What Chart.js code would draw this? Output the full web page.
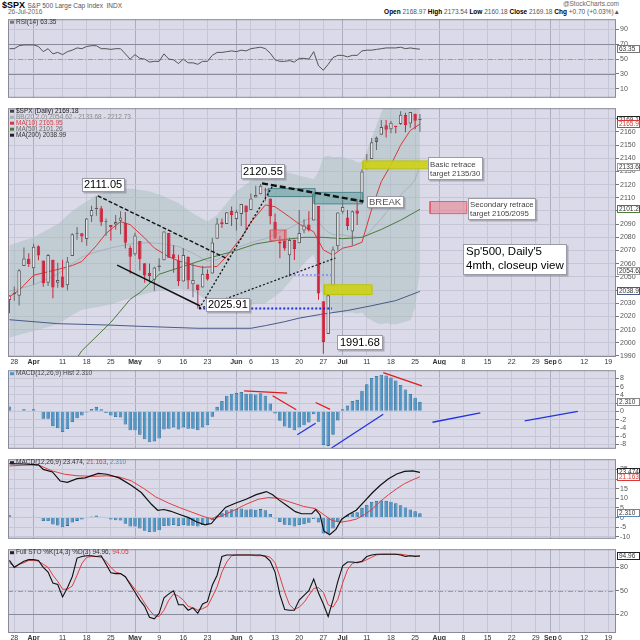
<!DOCTYPE html>
<html>
<head>
<meta charset="utf-8">
<script src="https://cdn.jsdelivr.net/npm/chart.js@4.4.1/dist/chart.umd.min.js"></script>
<style>
  html, body { margin: 0; padding: 0; background: #fff; }
  #page { position: relative; width: 640px; height: 640px; overflow: hidden; font-family: 'Liberation Sans', Arial, sans-serif; }
  #page canvas { position: absolute; left: 0; }
  .t { position: absolute; white-space: nowrap; line-height: 1; }
  .t b { color: #000; }
</style>
</head>
<body>
<div id="page">
  <div class="t" style="left:2px;top:1px;font-size:9px;color:#000"><b>$SPX</b> <span style="font-size:6.5px;color:#555">S&amp;P 500 Large Cap Index&nbsp; INDX</span></div>
  <div class="t" style="left:8px;top:9px;font-size:6.5px;color:#666">26-Jul-2016</div>
  <div class="t" style="right:21px;top:1px;font-size:6.5px;color:#666">@StockCharts.com</div>
  <div class="t" style="right:20px;top:9px;font-size:6.5px;color:#555"><b>Open</b> 2168.97 <b>High</b> 2173.54 <b>Low</b> 2160.18 <b>Close</b> 2169.18 <b>Chg</b> +0.70 (+0.03%)&#9650;</div>
  <canvas id="cRsi" width="640" height="89" style="top:14px"></canvas>
  <canvas id="cPrice" width="640" height="262" style="top:103px"></canvas>
  <canvas id="cHist" width="640" height="89" style="top:365px"></canvas>
  <canvas id="cMacd" width="640" height="90" style="top:454px"></canvas>
  <canvas id="cSto" width="640" height="96" style="top:544px"></canvas>
</div>
<script>
// $SPX daily, 24 Mar - 26 Jul 2016 (x = trading day number, 24 Mar = 0)
const days = ['03-24','03-28','03-29','03-30','03-31','04-01','04-04','04-05','04-06','04-07','04-08','04-11','04-12','04-13','04-14','04-15','04-18','04-19','04-20','04-21','04-22','04-25','04-26','04-27','04-28','04-29','05-02','05-03','05-04','05-05','05-06','05-09','05-10','05-11','05-12','05-13','05-16','05-17','05-18','05-19','05-20','05-23','05-24','05-25','05-26','05-27','05-31','06-01','06-02','06-03','06-06','06-07','06-08','06-09','06-10','06-13','06-14','06-15','06-16','06-17','06-20','06-21','06-22','06-23','06-24','06-27','06-28','06-29','06-30','07-01','07-05','07-06','07-07','07-08','07-11','07-12','07-13','07-14','07-15','07-18','07-19','07-20','07-21','07-22','07-25','07-26'];

const open = [2032.48,2037.89,2035.75,2058.27,2063.77,2056.62,2073.19,2062.50,2045.56,2063.01,
  2045.54,2050.23,2043.72,2065.92,2082.89,2083.10,2078.83,2096.05,2101.52,2102.09,
  2091.49,2089.37,2089.84,2092.57,2090.93,2071.82,2067.17,2077.18,2060.30,2052.95,
  2047.77,2057.55,2062.63,2083.29,2067.17,2062.50,2046.53,2065.04,2044.38,2044.21,
  2041.88,2052.23,2052.65,2078.93,2091.44,2090.06,2100.13,2093.94,2097.71,2104.07,
  2100.83,2110.18,2112.71,2115.65,2109.57,2091.75,2076.65,2077.60,2066.36,2078.20,
  2075.58,2085.19,2089.75,2092.80,2103.81,2031.45,2006.67,2042.69,2073.17,2099.34,
  2095.05,2084.43,2100.42,2106.97,2131.72,2139.50,2155.81,2157.88,2165.13,2162.04,
  2163.79,2166.10,2172.91,2166.47,2173.71,2168.97];
const high = [2036.04,2042.67,2055.91,2072.21,2067.92,2075.07,2074.02,2062.50,2067.33,2063.01,
  2060.63,2062.93,2065.05,2083.18,2087.84,2083.22,2094.66,2104.05,2111.05,2103.78,
  2094.32,2089.37,2096.87,2099.89,2099.30,2073.85,2083.42,2077.18,2060.30,2060.23,
  2057.72,2064.15,2084.87,2083.29,2073.99,2066.79,2071.88,2065.69,2060.61,2044.21,
  2058.35,2055.58,2079.67,2094.73,2094.31,2099.06,2103.48,2100.97,2105.26,2104.07,
  2113.36,2119.22,2120.55,2117.64,2109.57,2098.12,2081.30,2085.65,2079.62,2078.20,
  2100.66,2093.66,2099.71,2113.32,2103.81,2031.45,2036.09,2073.13,2098.94,2108.71,
  2100.72,2100.34,2109.08,2131.71,2143.16,2155.40,2156.45,2168.99,2169.05,2168.35,
  2164.63,2175.63,2174.56,2175.11,2173.71,2173.54];
const low = [2022.49,2031.96,2028.31,2058.27,2057.46,2043.98,2062.57,2042.56,2043.09,2033.80,
  2041.69,2041.88,2039.74,2065.92,2078.13,2076.31,2073.65,2091.68,2096.32,2088.52,
  2081.20,2077.52,2085.80,2082.31,2071.62,2052.28,2066.11,2054.89,2045.55,2045.77,
  2039.45,2054.31,2062.63,2064.46,2053.13,2043.13,2046.53,2040.82,2034.49,2025.91,
  2041.88,2047.26,2052.65,2078.93,2087.08,2090.06,2088.66,2085.10,2088.59,2085.36,
  2100.83,2110.18,2112.71,2107.73,2089.96,2078.46,2064.10,2069.80,2050.37,2062.84,
  2075.58,2083.02,2084.36,2092.80,2032.57,1991.68,2006.67,2042.69,2070.00,2097.90,
  2085.31,2074.02,2089.39,2106.97,2131.72,2139.50,2146.21,2157.88,2155.79,2159.07,
  2159.01,2165.16,2159.75,2163.24,2161.95,2160.18];
const close = [2035.94,2037.05,2055.01,2063.95,2059.74,2072.78,2066.13,2045.17,2066.66,2041.91,
  2047.60,2041.99,2061.72,2082.42,2082.78,2080.73,2094.34,2100.80,2102.40,2091.48,
  2091.58,2087.79,2091.70,2095.15,2075.81,2065.30,2081.43,2063.37,2051.12,2050.63,
  2057.14,2058.69,2084.39,2064.46,2064.11,2046.61,2066.66,2047.21,2047.63,2040.04,
  2052.32,2048.04,2076.06,2090.54,2090.10,2099.06,2096.95,2099.33,2105.26,2099.13,
  2109.41,2112.13,2119.12,2115.48,2096.07,2079.06,2075.32,2071.50,2077.99,2071.22,
  2083.25,2088.90,2085.45,2113.32,2037.41,2000.54,2036.09,2070.77,2098.86,2102.95,
  2088.55,2099.73,2097.90,2129.90,2137.16,2152.14,2152.43,2163.75,2161.74,2166.89,
  2163.78,2173.02,2165.17,2175.03,2168.48,2169.18];
const closeBefore = 2036.71; // 23 Mar

// overlays: [day, value]
const ma10 = [[0,2034.9],[2,2039.9],[5,2051.2],[8,2053.9],[10,2055.6],[13,2058.6],[15,2061.7],[18,2073.7],[20,2083.0],[23,2091.9],[25,2089.6],[28,2079.5],[30,2071.9],[33,2065.2],[35,2062.2],[38,2058.8],[40,2057.2],[43,2057.9],[45,2065.8],[48,2079.8],[50,2091.4],[53,2104.6],[55,2103.2],[58,2095.5],[60,2090.1],[63,2084.2],[65,2070.5],[67,2066.5],[69,2071.8],[71,2073.4],[73,2076.3],[75,2101.4],[77,2122.3],[79,2135.0],[81,2149.9],[83,2161.1],[85,2165.95]];
const ma50 = [[12,1978],[15,1994],[21,2015.5],[25,2033],[27,2038],[31,2052],[36,2058],[41,2064],[46,2069],[51,2075],[56,2078],[61,2080],[65,2080],[69,2079],[73,2080],[77,2086],[81,2093],[85,2101.26]];
const ma200 = [[0,2017.5],[10,2014.5],[20,2013.5],[27,2012.5],[39,2011],[50,2011],[53,2013],[57,2016],[60,2018.7],[64.4,2021.5],[70,2024.5],[74.7,2027.9],[80,2032],[85,2039]];
const bbX     = [0,5,10,13,15,18,21,25,29,32,35,38,41,43,45,47,50,53,56,58,60,62,63,64,65,66,67,68,69,70,71,72,73,74,75,76,77,78,79,80,81,82,83,84,85];
const bbUpper = [2074,2080,2090,2100,2105,2112,2116,2117,2115,2111,2106,2098,2092,2097,2106,2115,2123,2128,2130,2129,2127,2125,2124,2130,2141,2142,2141,2141,2141,2139,2139,2137,2137,2145,2155,2165,2175,2183,2192,2200,2209,2216,2220,2220,2213];
const bbMid   = [2039,2044,2052,2060,2065,2069,2072,2075,2076,2075,2073,2068,2062,2063,2067,2072,2076,2079,2084,2087,2091,2094,2095,2092,2087,2084,2082,2082,2082,2081,2081,2080,2080,2082,2086,2090,2094,2099,2103,2107,2112,2116,2119,2124,2134];
const bbLower = [2004,2009,2014,2021,2025,2027,2029,2034,2038,2040,2041,2039,2032,2030,2029,2029,2029,2030,2038,2046,2056,2064,2067,2053,2033,2026,2023,2023,2023,2023,2023,2022,2023,2019,2017,2015,2014,2015,2014,2014,2015,2016,2017,2027,2055];

// indicator panels
const rsi = [64,64,68,69,69,69,67,60,64,57, 59,56,60,62,65,64,67,68,68,64, 64,63,64,64,57,50,56,51,50,46,
  47,47,57,50,49,44,50,45,45,43, 47,47,55,59,59,60,61,60,62,61, 64,65,66,64,58,49,47,47,48,46,
  51,51,50,60,41,35,43,52,55,55, 53,55,55,61,62,62,63,64,65,65, 65,66,64,65,64,63.35];
const macdHist = [1.2,0.2,0.2,0.5,0.2,0.5,-0.1,-1.8,-1.8,-3.6, -4.1,-5.0,-4.3,-2.6,-1.7,-1.0,-0.3,0.6,1.1,0.5,
  -0.4,-1.0,-1.4,-1.5,-3.2,-4.6,-4.6,-5.7,-6.8,-7.5, -7.3,-6.6,-4.4,-4.2,-3.9,-4.4,-3.9,-4.2,-4.2,-4.6,
  -3.9,-3.4,-1.3,1.1,2.5,3.8,4.3,4.5,4.7,4.2, 4.3,4.1,4.4,3.8,1.9,-0.5,-2.3,-3.7,-4.0,-4.6,
  -3.9,-3.4,-2.7,-0.7,-2.5,-8.2,-8.4,-5.7,-2.2,0.5, 1.4,2.5,2.8,5.0,6.6,8.1,8.6,8.9,8.7,8.2,
  7.5,6.4,5.3,4.2,3.3,2.31];
const macdLine = [[0,28],[3,27.8],[6,27.4],[7,25],[8.9,23.7],[10.5,19],[12,18.3],[14,20.2],[15.7,20.6],[18.4,22.9],[20.2,22.5],[22.7,20.6],[25.2,16.8],[27.3,13],[29.4,6.9],[30.7,3.8],[32,4.2],[33.3,3.4],[35.4,1.5],[37.1,0],[38.8,-2.3],[40.5,-3.8],[41.8,-3.1],[43.1,0.8],[44.8,5.4],[46.9,7.6],[49,9.5],[51.1,11.9],[53.2,13.5],[54.5,11.9],[55.8,9.2],[57.5,6.1],[59.2,3.1],[60.5,2],[62.6,2],[63.4,4.1],[64.3,1.5],[65.1,-6.9],[66.3,-8.9],[67.6,-6.1],[68.8,-0.8],[70.1,1.5],[71.8,3.8],[73.5,8.4],[75.2,13],[76.8,16.8],[78.5,20.2],[80.2,22.6],[81.8,24],[83.5,24.2],[85,23.474]];
const macdSignal = [[0,26.8],[3,27.2],[6,27.3],[8.9,24.2],[11.4,22.5],[14,21.7],[17.5,21.4],[20.2,21.7],[22.7,21.1],[25.2,19.1],[27.7,15.3],[30.3,10.7],[32.9,7.6],[35.4,5],[38,2.6],[40.5,0.3],[41.8,-0.5],[43.9,0.8],[46.5,3.8],[49,6.9],[51.5,9.5],[53.6,10.4],[55.8,10],[58.3,7.9],[60.9,5.8],[63.4,4.6],[65.1,1.5],[66.8,-1.5],[68.5,-2.4],[70.1,-1.8],[71.8,-0.8],[73.5,1.5],[75.2,4.6],[76.8,8.4],[78.5,11.9],[80.2,15],[81.8,17.6],[83.5,19.6],[85,21.163]];
const stoK = [89,80,84,88,90,90,89,80,74,60, 58,42,54,68,92,94,95,95,94,95, 84,73,72,72,68,58,48,38,30,16,
  14,21,41,46,50,32,32,25,28,21, 33,36,57,70,94,96,96,96,96,96, 96,96,96,94,88,74,45,26,25,25,
  38,44,50,65,47,33,17,38,62,82, 87,87,86,88,94,96,97,97,97,97, 97,96,94,95,94,94.96];
const stoD = [86,81,84,86,89,89,88,84,80,70, 62,52,52,56,70,85,93,94,94,93, 88,80,74,72,68,60,52,44,34,25,
  18,17,25,38,46,43,38,30,28,25, 27,30,42,55,74,87,95,96,96,96, 96,95,95,95,93,86,68,48,32,26,
  29,35,44,53,54,48,32,29,39,60, 77,85,87,87,90,93,96,97,97,97, 97,97,96,95,95,94.05];

// date axis (future weeks included)
const tickPos    = [1,5,11,16,21,26,31,36,41,47,50,55,60,65,69,74,79,84,89,94,99,104,109,112,114,119,124];
const tickLabels = ['28','Apr','11','18','25','May','9','16','23','Jun','6','13','20','27','Jul','11','18','25','Aug','8','15','22','29','Sep','6','12','19'];
const tickMonth  = [0,1,0,0,0,1,0,0,0,1,0,0,0,0,1,0,0,0,1,0,0,0,0,1,0,0,0];
const priceTicks = [1990,2000,2010,2020,2030,2040,2050,2060,2070,2080,2090,2100,2110,2120,2130,2140,2150,2160,2170];

// chartist's drawings: [day0, value0, day1, value1] and boxes [day0, day1, low, high]
const trendFromHigh = [18.3, 2111.5, 45.5, 2063];
const trendLower    = [22.3, 2058.9, 39.5, 2027.9];
const trendUpFromLow = [39.3, 2025.91, 54.6, 2119.6];
const trendFromPeak = [52.3, 2121, 73.3, 2107.2];
const trendLowRight = [39.3, 2025.91, 67.5, 2064.3];
const lowLevel      = [39.3, 2025.91, 66.8, 2025.91];
const midLevel      = [58.1, 2051.5, 67.1, 2051.5];
const tealBoxA   = [53.6, 63.3, 2111, 2117];
const tealBoxB   = [63.1, 73.1, 2105.4, 2114.1];
const pinkBoxSm  = [54, 57.3, 2077.5, 2085.6];
const yellowHi   = [73.2, 86.8, 2132, 2138];
const yellowLo   = [65.2, 75.1, 2036.6, 2044];
const pinkTarget = [87.1, 94.7, 2098, 2107.2];
const histRed  = [[77.4, 9.4, 85.4, 6.2], [48.6, 5.0, 57.5, 4.45], [54.5, 3.8, 59.4, 0.4], [63.4, 2.15, 66.4, 0.5]];
const histBlue = [[59.6, -5.7, 63.4, -2.9], [66.7, -8.9, 77.4, -0.7], [87.6, -2.65, 97.5, -0.35], [106.7, -2.3, 117.7, 0]];

const FONT = "'Liberation Sans', Arial, sans-serif";
const BG = '#dadae8', GRID = '#c6c6d7', GRID_M = '#adadc1', FRAME = '#8a8a9a';
const RED = '#d2223b', HOLLOW = '#e6e6ec', DARK = '#5a5a5a';

const decor = {
  cRsi: {
    refs: [{ v: 70, c: '#8a8a9c', w: 1.2 }, { v: 30, c: '#8a8a9c', w: 1.2 }, { v: 50, c: '#9a9aaa', w: 1, dash: [5, 2, 1, 2] }],
    legend: [{ y: 3, mark: '#777', parts: [['RSI(14) 63.35', '#333']] }],
    tags: [{ v: 63.35, t: '63.35', c: '#777' }]
  },
  cPrice: {
    legend: [
      { y: 3, mark: '#444', parts: [['$SPX (Daily) 2169.18', '#222']] },
      { y: 9, mark: '#aab4b4', parts: [['BB(20,2.0) 2054.62 - 2133.68 - 2212.73', '#8a8a8a']] },
      { y: 15, mark: '#d83a3a', parts: [['MA(10) 2165.95', '#d83a3a']] },
      { y: 21, mark: '#4b7a3c', parts: [['MA(50) 2101.26', '#666']] },
      { y: 27, mark: '#222', parts: [['MA(200) 2038.99', '#333']] }
    ],
    tags: [
      { v: 2169.18, t: '2169.18', c: '#222' }, { v: 2165.95, t: '2165.95', c: '#d83a3a', tc: '#d83a3a' },
      { v: 2133.68, t: '2133.68', c: '#999' }, { v: 2101.26, t: '2101.26', c: '#4b7a3c' },
      { v: 2054.62, t: '2054.62', c: '#999' }, { v: 2038.99, t: '2038.99', c: '#4a5a8a' }
    ],
    notes: [
      { text: '2111.05', at: [15.0, 2125.3], size: 11, pad: 2, pv: 0.5, color: '#000' },
      { text: '2120.55', at: [47.9, 2135.7], size: 11, pad: 2, pv: 1, color: '#000' },
      { text: '2025.91', at: [40.8, 2033.6], size: 11, pad: 2, pv: 0.5, color: '#000' },
      { text: '1991.68', at: [67.9, 2005.6], size: 11, pad: 3, pv: 1, color: '#000' },
      { text: 'BREAK', at: [74.0, 2111.4], size: 9.5, pad: 2, pv: 0.5, color: '#555' },
      { text: 'Basic retrace\ntarget 2135/30', at: [86.7, 2140.7], size: 7.8, pad: 2, pv: 2.5, color: '#444' },
      { text: 'Secondary retrace\ntarget 2105/2095', at: [95.0, 2109.7], size: 7.8, pad: 2, pv: 2, color: '#444' },
      { text: "Sp'500, Daily'5\n4mth, closeup view", at: [93.9, 2074.9], size: 11.5, pad: 3, pv: 1.5, color: '#000' }
    ]
  },
  cHist: {
    legend: [{ y: 3.5, mark: '#4b97c7', parts: [['MACD(12,26,9) Hist 2.310', '#444']] }],
    tags: [{ v: 2.31, t: '2.310', c: '#888' }]
  },
  cMacd: {
    legend: [{ y: 3.5, mark: '#222', parts: [['MACD(12,26,9) 23.474, ', '#333'], ['21.163', '#d83a3a'], [', ', '#333'], ['2.310', '#5a8ab0']] }],
    tags: [{ v: 23.474, t: '23.474', c: '#222' }, { v: 21.163, t: '21.163', c: '#d83a3a', tc: '#d83a3a' }, { v: 2.31, t: '2.310', c: '#5a8ab0' }]
  },
  cSto: {
    refs: [{ v: 80, c: '#8a8a9c', w: 1.2 }, { v: 20, c: '#8a8a9c', w: 1.2 }, { v: 50, c: '#9a9aaa', w: 1, dash: [5, 2, 1, 2] }],
    legend: [{ y: 3.5, mark: '#222', parts: [['Full STO %K(14,3) %D(3) 94.96, ', '#333'], ['94.05', '#d83a3a']] }],
    tags: [{ v: 94.96, t: '94.96', c: '#222' }]
  }
};

const decoPlugin = {
  id: 'deco',
  beforeDraw(chart) {
    const { ctx, chartArea: a } = chart;
    ctx.save();
    ctx.fillStyle = BG;
    ctx.fillRect(a.left, a.top, a.width, a.height);
    ctx.restore();
  },
  beforeDatasetsDraw(chart) {
    const d = decor[chart.canvas.id];
    const { ctx, chartArea: a } = chart;
    ctx.save();
    (d.refs || []).forEach(r => {
      const py = Math.round(chart.scales.y.getPixelForValue(r.v)) + 0.5;
      ctx.strokeStyle = r.c; ctx.lineWidth = r.w; ctx.setLineDash(r.dash || []);
      ctx.beginPath(); ctx.moveTo(a.left, py); ctx.lineTo(a.right, py); ctx.stroke();
    });
    ctx.restore();
  },
  afterDatasetsDraw(chart) {
    const d = decor[chart.canvas.id];
    const { ctx } = chart;
    const { x, y } = chart.scales;
    ctx.save();
    (d.notes || []).forEach(n => {
      const px = Math.round(x.getPixelForValue(n.at[0]));
      const py = Math.round(y.getPixelForValue(n.at[1]));
      ctx.font = n.size + 'px ' + FONT;
      const lines = n.text.split('\n');
      const lh = Math.round(n.size * 1.2);
      const w = Math.ceil(Math.max(...lines.map(l => ctx.measureText(l).width))) + 2 * n.pad;
      const h = lines.length * lh + 2 * n.pv;
      ctx.fillStyle = 'rgba(110,110,125,0.45)';
      ctx.fillRect(px + 1.5, py + 1.5, w, h);
      ctx.fillStyle = '#fff';
      ctx.fillRect(px, py, w, h);
      ctx.strokeStyle = '#9a9aa6'; ctx.lineWidth = 1;
      ctx.strokeRect(px + 0.5, py + 0.5, w - 1, h - 1);
      ctx.fillStyle = n.color; ctx.textBaseline = 'top';
      lines.forEach((l, k) => ctx.fillText(l, px + n.pad, py + n.pv + 1 + k * lh));
    });
    ctx.restore();
  },
  afterDraw(chart) {
    const d = decor[chart.canvas.id];
    const { ctx, chartArea: a } = chart;
    ctx.save();
    ctx.strokeStyle = FRAME; ctx.lineWidth = 1;
    ctx.strokeRect(a.left + 0.5, a.top + 0.5, a.width - 1, a.height - 1);
    ctx.font = '6.5px ' + FONT; ctx.textBaseline = 'middle';
    (d.legend || []).forEach(it => {
      const yy = a.top + it.y;
      let xx = a.left + 2;
      ctx.fillStyle = it.mark; ctx.fillRect(xx, yy - 1.5, 4, 3);
      xx += 6;
      it.parts.forEach(([t, c]) => { ctx.fillStyle = c; ctx.fillText(t, xx, yy); xx += ctx.measureText(t).width; });
    });
    (d.tags || []).forEach(t => {
      const py = Math.round(chart.scales.y.getPixelForValue(t.v));
      ctx.fillStyle = '#fff'; ctx.fillRect(a.right + 1, py - 4, 23, 8);
      ctx.strokeStyle = t.c; ctx.strokeRect(a.right + 1.5, py - 3.5, 22, 7);
      ctx.fillStyle = t.tc || '#333'; ctx.fillText(t.t, a.right + 3, py + 0.5);
    });
    ctx.restore();
  }
};

function xAxis(showLabels, h) {
  return {
    type: 'linear', min: -0.3, max: 125.6, offset: false,
    afterBuildTicks: ax => { ax.ticks = tickPos.map((v, i) => ({ value: v, major: !!tickMonth[i] })); },
    afterFit: ax => { ax.height = h; },
    grid: { color: c => (c.tick && c.tick.major ? GRID_M : GRID), drawTicks: false, offset: false },
    border: { display: false },
    ticks: {
      display: showLabels, autoSkip: false, maxRotation: 0, padding: 1, color: '#333',
      font: c => ({ family: FONT, size: 7, weight: c.tick && c.tick.major ? 'bold' : 'normal' }),
      callback: (v, i) => tickLabels[i]
    }
  };
}
function yAxis(min, max, ticks) {
  return {
    position: 'right', min, max,
    afterBuildTicks: ax => { ax.ticks = ticks.map(v => ({ value: v })); },
    afterFit: ax => { ax.width = 24; },
    grid: { color: GRID, tickLength: 3, tickColor: '#777' },
    border: { display: false },
    ticks: { color: '#555', padding: 1, autoSkip: false, font: { family: FONT, size: 7 }, callback: v => String(v) }
  };
}
function make(id, datasets, x, y) {
  return new Chart(document.getElementById(id), {
    type: 'bar',
    data: { datasets },
    options: {
      responsive: false, animation: false, events: [],
      layout: { padding: { left: 8, right: 0, top: 0, bottom: 0 }, autoPadding: false },
      plugins: { legend: { display: false }, tooltip: { enabled: false } },
      scales: { x, y }
    },
    plugins: [decoPlugin]
  });
}

const pairs = arr => arr.map(([x, y]) => ({ x, y }));
const daily = arr => arr.map((y, x) => ({ x, y }));
function line(data, color, width, extra) {
  return Object.assign({ type: 'line', data, borderColor: color, borderWidth: width, pointRadius: 0, fill: false, tension: 0 }, extra || {});
}
function seg(s, color, width, dash, order) {
  return line([{ x: s[0], y: s[1] }, { x: s[2], y: s[3] }], color, width, { borderDash: dash, order });
}
function box(r, fillColor, edgeColor, order) {
  const [x0, x1, y0, y1] = r;
  return line([{ x: x0, y: y0 }, { x: x1, y: y0 }, { x: x1, y: y1 }, { x: x0, y: y1 }, { x: x0, y: y0 }],
    edgeColor, 1, { fill: 'shape', backgroundColor: fillColor, order });
}

// candle colours: red when below previous close, filled when close < open
const prevClose = close.map((c, i) => (i ? close[i - 1] : closeBefore));
const isDown = close.map((c, i) => c < prevClose[i]);
const wickColor = isDown.map(dn => (dn ? RED : '#666'));
const bodyEdge = isDown.map(dn => (dn ? RED : DARK));
const bodyFill = close.map((c, i) => (c < open[i] ? (isDown[i] ? RED : '#808080') : HOLLOW));

// ---- RSI ----
make('cRsi', [line(daily(rsi), '#555', 1)], xAxis(false, 0), yAxis(-2, 103.6, [10, 30, 50, 70, 90]));

// ---- price ----
make('cPrice', [
  line(pairs(bbX.map((x, i) => [x, bbLower[i]])), 'rgba(0,0,0,0)', 0, { order: 20 }),
  line(pairs(bbX.map((x, i) => [x, bbUpper[i]])), 'rgba(0,0,0,0)', 0, { fill: '-1', backgroundColor: 'rgba(160,186,180,0.42)', order: 20 }),
  line(pairs(bbX.map((x, i) => [x, bbMid[i]])), 'rgba(150,158,170,0.7)', 0.8, { order: 19 }),
  line(pairs(ma200), '#4a5a8a', 1, { order: 15 }),
  line(pairs(ma50), '#4b7a3c', 1, { order: 15 }),
  line(pairs(ma10), '#d83a3a', 1, { order: 15 }),
  { type: 'bar', data: days.map((d, i) => ({ x: i, y: [low[i], high[i]] })), backgroundColor: wickColor,
    borderWidth: 0, grouped: false, maxBarThickness: 1, order: 10 },
  { type: 'bar', data: days.map((d, i) => ({ x: i, y: [open[i], close[i]] })), backgroundColor: bodyFill,
    borderColor: bodyEdge, borderWidth: 1, borderSkipped: false, grouped: false, minBarLength: 1, order: 9 },
  box(tealBoxA, 'rgba(80,150,150,0.45)', 'rgba(70,130,135,0.9)', 6),
  box(tealBoxB, 'rgba(80,150,150,0.45)', 'rgba(70,130,135,0.9)', 6),
  box(pinkBoxSm, 'rgba(225,120,125,0.45)', 'rgba(205,90,95,0.8)', 6),
  box(yellowHi, 'rgba(205,210,20,0.9)', 'rgba(190,195,10,1)', 6),
  box(yellowLo, 'rgba(205,210,20,0.9)', 'rgba(190,195,10,1)', 6),
  box(pinkTarget, 'rgba(235,125,135,0.55)', 'rgba(225,90,100,0.9)', 6),
  seg(trendFromHigh, '#111', 1.4, [4, 2], 2),
  seg(trendLower, '#111', 1.4, [], 2),
  seg(trendUpFromLow, '#111', 1.3, [2, 2], 2),
  seg(trendLowRight, '#111', 1.2, [2, 2], 2),
  seg(trendFromPeak, '#111', 2.4, [6, 3], 2),
  seg(lowLevel, '#1f2fe0', 2, [2, 2], 2),
  seg(midLevel, '#7f86ee', 1.5, [2, 2], 2)
], xAxis(true, 8), yAxis(1989.2, 2178, priceTicks));

// ---- MACD histogram ----
make('cHist', [
  { type: 'bar', data: daily(macdHist), backgroundColor: '#4b97c7', borderColor: '#2a6a98', borderWidth: 0.8, grouped: false, order: 5 },
  ...histRed.map(s => seg(s, '#e21b1b', 1.3, [], 1)),
  ...histBlue.map(s => seg(s, '#2233e0', 1.3, [], 1))
], xAxis(false, 0), yAxis(-9.1, 10, [-8, -6, -4, -2, 0, 2, 4, 6, 8]));

// ---- MACD ----
make('cMacd', [
  { type: 'bar', data: daily(macdHist), backgroundColor: '#4b97c7', borderColor: '#2a6a98', borderWidth: 0.8, grouped: false, order: 5 },
  line(pairs(macdSignal), '#e04040', 1, { order: 2 }),
  line(pairs(macdLine), '#111', 1.2, { order: 1 })
], xAxis(false, 0), yAxis(-11, 30.3, [-10, -5, 0, 5, 10, 15, 20, 25]));

// ---- Full stochastics ----
make('cSto', [
  line(daily(stoD), '#e04040', 1, { order: 2 }),
  line(daily(stoK), '#111', 1.1, { order: 1 })
], xAxis(true, 7), yAxis(-4.3, 103.4, [20, 50, 80]));
</script>
</body>
</html>
